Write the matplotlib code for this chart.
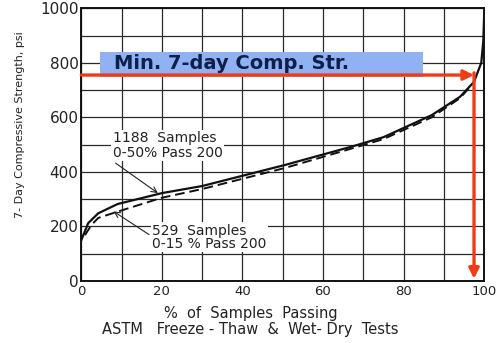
import numpy as np
import matplotlib.pyplot as plt
from matplotlib.patches import Rectangle

# curve: 1188 samples, 0-50% passing No. 200 (solid)
pct_solid = [0.0, 1.7, 4.2, 9, 20, 30, 50.5, 67, 75, 87, 94, 97.5, 99.3, 99.8, 100]
str_solid = [150, 212, 248, 282, 322, 348, 425, 492, 527, 608, 675, 730, 800, 880, 970]

# 529 samples, 0-15% passing No. 200 (dashed)
pct_dash = [0.9, 2.5, 4.2, 9, 20, 30, 50.5, 67, 75, 87, 94, 97.5]
str_dash = [168, 205, 231, 254, 305, 337, 414, 485, 520, 600, 670, 728]

min_strength = 755
min_pct = 97.5

xticks = [0, 20, 40, 60, 80, 100]
yticks = [0, 200, 400, 600, 800, 1000]

fig = plt.figure(figsize=(4.96, 3.43), dpi=100)
ax = fig.add_axes([0.164, 0.181, 0.812, 0.795])

ax.set_xlim(0, 100)
ax.set_ylim(0, 1000)
ax.set_xticks(xticks)
ax.set_yticks(yticks)
ax.set_xticks(np.arange(0, 101, 10), minor=True)
ax.set_yticks(np.arange(0, 1001, 100), minor=True)
ax.grid(True, which='both', color='#2a2a2a', lw=0.9)
ax.tick_params(which='both', length=0, colors='#222222', pad=2)
ax.tick_params(axis='y', labelsize=11)
ax.tick_params(axis='x', labelsize=9.5, pad=3)
for s in ax.spines.values():
    s.set_linewidth(1.4)
    s.set_color('#111111')

ax.plot(pct_solid, str_solid, color='#111111', lw=1.6, zorder=3)
ax.plot(pct_dash, str_dash, color='#111111', lw=1.4, ls=(0, (5, 2.5)), zorder=3)

# sample-group labels with leader lines
ax.text(7.8, 496, '1188  Samples\n0-50% Pass 200', fontsize=10, color='#222222',
        linespacing=1.05, va='center', ha='left', zorder=4,
        bbox=dict(boxstyle='square,pad=0.1', fc='white', ec='none'))
ax.annotate('', xy=(19, 322), xytext=(8.5, 432),
            arrowprops=dict(arrowstyle='->', color='#222222', lw=0.8,
                            shrinkA=0, shrinkB=0), zorder=4)
ax.text(17.6, 160, '529  Samples\n0-15 % Pass 200', fontsize=10, color='#222222',
        linespacing=0.95, va='center', ha='left', zorder=4,
        bbox=dict(boxstyle='square,pad=0.1', fc='white', ec='none'))
ax.annotate('', xy=(8, 255), xytext=(16.8, 170),
            arrowprops=dict(arrowstyle='->', color='#222222', lw=0.8,
                            shrinkA=0, shrinkB=0), zorder=4)

# minimum 7-day strength callout
ax.add_patch(Rectangle((4.7, 747), 80.1, 92, fc='#90b2f3', ec='none', zorder=5))
ax.text(8.0, 796, 'Min. 7-day Comp. Str.', fontsize=14, fontweight='bold',
        color='#0d1f4a', va='center', ha='left', zorder=5)
ax.annotate('', xy=(min_pct, min_strength), xytext=(0, min_strength),
            arrowprops=dict(arrowstyle='-|>,head_length=0.6,head_width=0.3',
                            color='#f23a14', lw=2.4, shrinkA=0, shrinkB=0),
            zorder=6, annotation_clip=False)
ax.annotate('', xy=(min_pct, 8), xytext=(min_pct, min_strength + 8),
            arrowprops=dict(arrowstyle='-|>,head_length=0.6,head_width=0.3',
                            color='#f23a14', lw=2.4, shrinkA=0, shrinkB=0),
            zorder=6, annotation_clip=False)

fig.text(0.04, 0.636, '7- Day Compressive Strength, psi', rotation=90,
         fontsize=8, color='#222222', ha='center', va='center')
fig.text(0.505, 0.085, '%  of  Samples  Passing', fontsize=10.5, color='#222222',
         ha='center', va='center')
fig.text(0.505, 0.039, 'ASTM   Freeze - Thaw  &  Wet- Dry  Tests', fontsize=10.5,
         color='#222222', ha='center', va='center')

fig.savefig('out.png', dpi=100)
